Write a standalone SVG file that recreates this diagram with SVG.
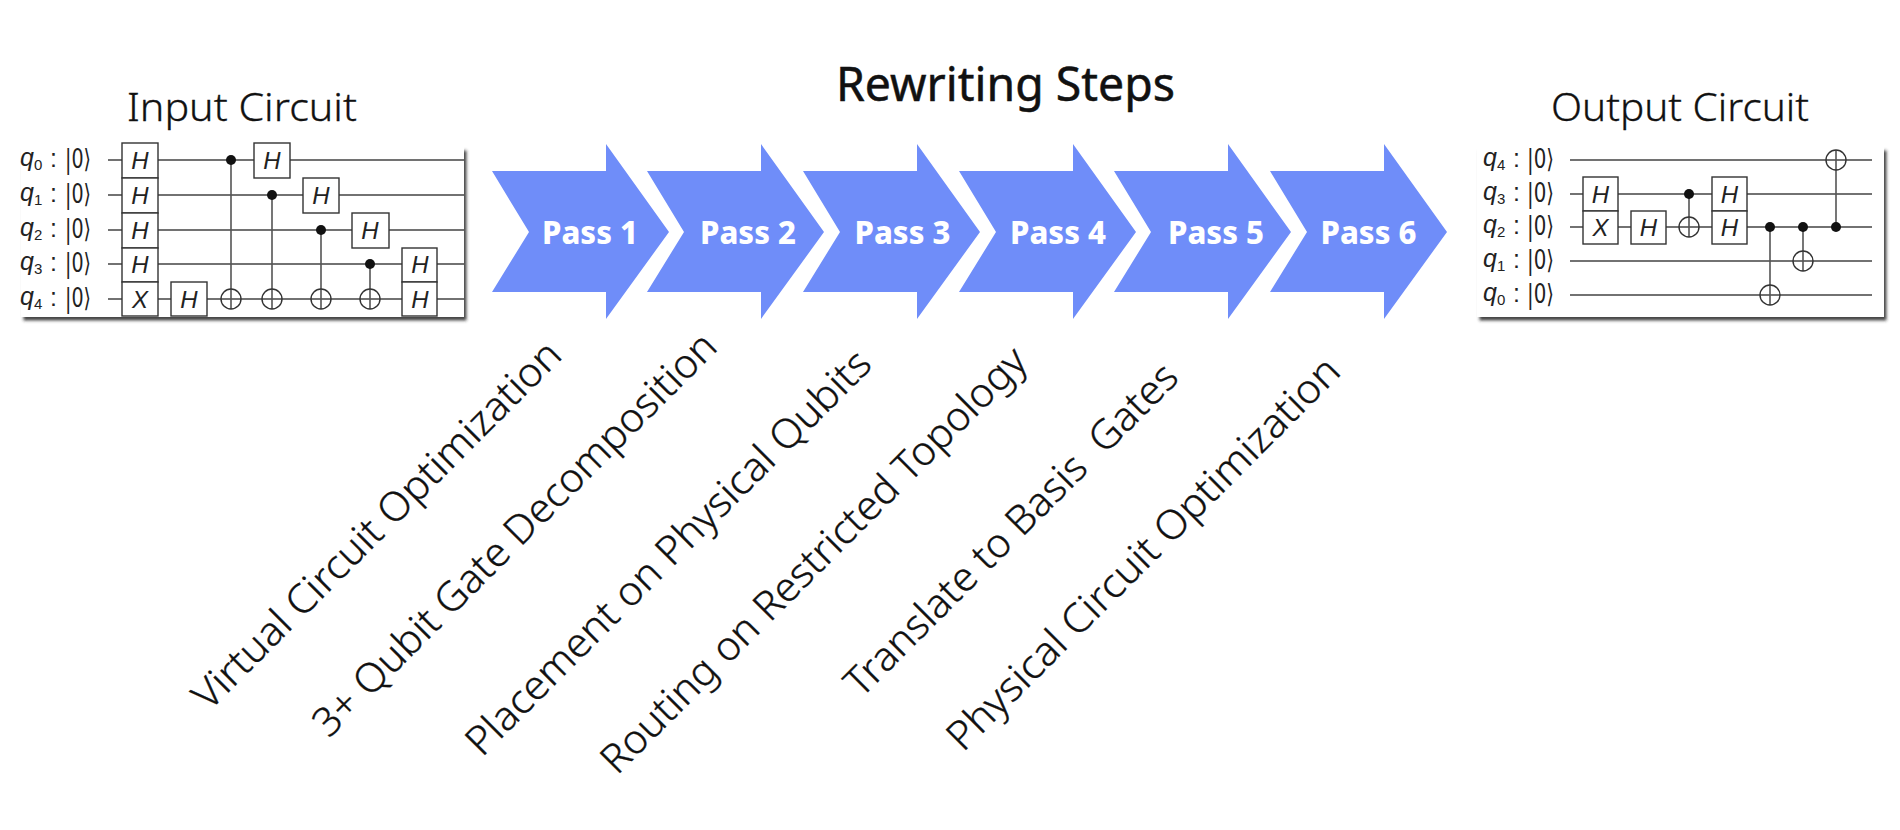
<svg xmlns="http://www.w3.org/2000/svg" xmlns:xlink="http://www.w3.org/1999/xlink" width="1900" height="830" viewBox="0 0 1900 830">
<style>
text{font-family:"Noto Sans","Open Sans","Liberation Sans",sans-serif;fill:#111}
.title{font-size:39px;font-weight:300;stroke:#111;stroke-width:.3px}
.main{font-size:47px;font-weight:400;stroke:#111;stroke-width:.5px}
.pass{font-size:32px;font-weight:800;fill:#fff;text-anchor:middle}
.rot{font-size:40px;font-weight:300;stroke:#111;stroke-width:.3px}
.arrow{fill:#6f8df9}
.wire{stroke:#444;stroke-width:1.4;fill:none}
.vert{stroke:#555;stroke-width:1.6;fill:none}
.gate{fill:#fff;stroke:#333;stroke-width:1.4}
.gt{font-family:"Liberation Sans",Arial,sans-serif;font-style:italic;font-size:24px;text-anchor:middle;fill:#222}
.q{font-family:"Liberation Sans",Arial,sans-serif;font-size:25px;fill:#222}
.q .i{font-style:italic}
.ket{font-family:"DejaVu Sans",sans-serif;font-size:26px;fill:#222}
.panel{fill:#fff;filter:url(#sh)}
.ctrl{fill:#111}
.targ{fill:none;stroke:#333;stroke-width:1.4}
</style>
<defs>
<filter id="sh" x="-5%" y="-5%" width="110%" height="110%"><feDropShadow dx="2.5" dy="3.5" stdDeviation="1.8" flood-color="#333" flood-opacity="0.9"/></filter>
<polygon id="arr" class="arrow" points="0,171 114,171 114,144 177,232 114,319 114,292 0,292 37,232"/>
</defs>

<g id="input-panel"><rect class="panel" x="21" y="147" width="443" height="170"/></g>
<g id="output-panel"><rect class="panel" x="1477" y="147" width="407" height="170"/></g>

<g id="connectors">
<path class="wire" d="M108 160H464M108 195H464M108 230H464M108 264H464M108 299H464"/>
<path class="vert" d="M231 160V309M272 195V309M321 230V309M370 264V309"/>
<path class="wire" d="M1570 160H1872M1570 194H1872M1570 227H1872M1570 261H1872M1570 295H1872"/>
<path class="vert" d="M1689 194V237M1770 227V305M1803 227V271M1836 227V150"/>
</g>

<g id="input-title"><text class="title" x="127" y="121" textLength="230" lengthAdjust="spacingAndGlyphs">Input Circuit</text></g>
<g id="title"><text class="main" x="836" y="101" textLength="339" lengthAdjust="spacingAndGlyphs">Rewriting Steps</text></g>
<g id="output-title"><text class="title" x="1551" y="121" textLength="258" lengthAdjust="spacingAndGlyphs">Output Circuit</text></g>

<g id="input-labels">
<text class="q" x="20" y="166"><tspan class="i">q</tspan><tspan font-size="15" dy="4">0</tspan></text><text class="q" x="50" y="167">:</text><text class="ket" x="65" y="168" textLength="26" lengthAdjust="spacingAndGlyphs">|0⟩</text>
<text class="q" x="20" y="201"><tspan class="i">q</tspan><tspan font-size="15" dy="4">1</tspan></text><text class="q" x="50" y="202">:</text><text class="ket" x="65" y="203" textLength="26" lengthAdjust="spacingAndGlyphs">|0⟩</text>
<text class="q" x="20" y="236"><tspan class="i">q</tspan><tspan font-size="15" dy="4">2</tspan></text><text class="q" x="50" y="237">:</text><text class="ket" x="65" y="238" textLength="26" lengthAdjust="spacingAndGlyphs">|0⟩</text>
<text class="q" x="20" y="270"><tspan class="i">q</tspan><tspan font-size="15" dy="4">3</tspan></text><text class="q" x="50" y="271">:</text><text class="ket" x="65" y="272" textLength="26" lengthAdjust="spacingAndGlyphs">|0⟩</text>
<text class="q" x="20" y="305"><tspan class="i">q</tspan><tspan font-size="15" dy="4">4</tspan></text><text class="q" x="50" y="306">:</text><text class="ket" x="65" y="307" textLength="26" lengthAdjust="spacingAndGlyphs">|0⟩</text>
</g>

<g id="input-gates">
<rect class="gate" x="122" y="143" width="36" height="35"/><text class="gt" x="140" y="169">H</text>
<rect class="gate" x="122" y="178" width="36" height="35"/><text class="gt" x="140" y="204">H</text>
<rect class="gate" x="122" y="213" width="36" height="35"/><text class="gt" x="140" y="239">H</text>
<rect class="gate" x="122" y="248" width="36" height="34"/><text class="gt" x="140" y="273">H</text>
<rect class="gate" x="122" y="282" width="36" height="34"/><text class="gt" x="140" y="308">X</text>
<rect class="gate" x="171" y="282" width="36" height="34"/><text class="gt" x="189" y="308">H</text>
<rect class="gate" x="254" y="143" width="36" height="35"/><text class="gt" x="272" y="169">H</text>
<rect class="gate" x="303" y="178" width="36" height="35"/><text class="gt" x="321" y="204">H</text>
<rect class="gate" x="352" y="213" width="37" height="35"/><text class="gt" x="370" y="239">H</text>
<rect class="gate" x="402" y="248" width="35" height="34"/><text class="gt" x="420" y="273">H</text>
<rect class="gate" x="402" y="282" width="35" height="34"/><text class="gt" x="420" y="308">H</text>
<circle class="ctrl" cx="231" cy="160" r="5"/><circle class="targ" cx="231" cy="299" r="10"/>
<circle class="ctrl" cx="272" cy="195" r="5"/><circle class="targ" cx="272" cy="299" r="10"/>
<circle class="ctrl" cx="321" cy="230" r="5"/><circle class="targ" cx="321" cy="299" r="10"/>
<circle class="ctrl" cx="370" cy="264" r="5"/><circle class="targ" cx="370" cy="299" r="10"/>
</g>

<g id="pass-1"><use xlink:href="#arr" href="#arr" x="492"/><text class="pass" x="590" y="244" textLength="96" lengthAdjust="spacingAndGlyphs">Pass 1</text></g>
<g id="pass-2"><use xlink:href="#arr" href="#arr" x="647"/><text class="pass" x="748" y="244" textLength="96" lengthAdjust="spacingAndGlyphs">Pass 2</text></g>
<g id="pass-3"><use xlink:href="#arr" href="#arr" x="803"/><text class="pass" x="902.5" y="244" textLength="96" lengthAdjust="spacingAndGlyphs">Pass 3</text></g>
<g id="pass-4"><use xlink:href="#arr" href="#arr" x="959"/><text class="pass" x="1058" y="244" textLength="96" lengthAdjust="spacingAndGlyphs">Pass 4</text></g>
<g id="pass-5"><use xlink:href="#arr" href="#arr" x="1114"/><text class="pass" x="1216" y="244" textLength="96" lengthAdjust="spacingAndGlyphs">Pass 5</text></g>
<g id="pass-6"><use xlink:href="#arr" href="#arr" x="1270"/><text class="pass" x="1368.5" y="244" textLength="96" lengthAdjust="spacingAndGlyphs">Pass 6</text></g>

<g id="output-labels">
<text class="q" x="1483" y="166"><tspan class="i">q</tspan><tspan font-size="15" dy="4">4</tspan></text><text class="q" x="1513" y="167">:</text><text class="ket" x="1527" y="168" textLength="27" lengthAdjust="spacingAndGlyphs">|0⟩</text>
<text class="q" x="1483" y="200"><tspan class="i">q</tspan><tspan font-size="15" dy="4">3</tspan></text><text class="q" x="1513" y="201">:</text><text class="ket" x="1527" y="202" textLength="27" lengthAdjust="spacingAndGlyphs">|0⟩</text>
<text class="q" x="1483" y="233"><tspan class="i">q</tspan><tspan font-size="15" dy="4">2</tspan></text><text class="q" x="1513" y="234">:</text><text class="ket" x="1527" y="235" textLength="27" lengthAdjust="spacingAndGlyphs">|0⟩</text>
<text class="q" x="1483" y="267"><tspan class="i">q</tspan><tspan font-size="15" dy="4">1</tspan></text><text class="q" x="1513" y="268">:</text><text class="ket" x="1527" y="269" textLength="27" lengthAdjust="spacingAndGlyphs">|0⟩</text>
<text class="q" x="1483" y="301"><tspan class="i">q</tspan><tspan font-size="15" dy="4">0</tspan></text><text class="q" x="1513" y="302">:</text><text class="ket" x="1527" y="303" textLength="27" lengthAdjust="spacingAndGlyphs">|0⟩</text>
</g>

<g id="output-gates">
<rect class="gate" x="1583" y="177" width="35" height="34"/><text class="gt" x="1600.5" y="203">H</text>
<rect class="gate" x="1583" y="211" width="35" height="33"/><text class="gt" x="1600.5" y="236">X</text>
<rect class="gate" x="1631" y="211" width="35" height="33"/><text class="gt" x="1648.5" y="236">H</text>
<rect class="gate" x="1712" y="177" width="35" height="34"/><text class="gt" x="1729.5" y="203">H</text>
<rect class="gate" x="1712" y="211" width="35" height="33"/><text class="gt" x="1729.5" y="236">H</text>
<circle class="ctrl" cx="1689" cy="194" r="5"/><circle class="targ" cx="1689" cy="227" r="10"/>
<circle class="ctrl" cx="1770" cy="227" r="5"/><circle class="targ" cx="1770" cy="295" r="10"/>
<circle class="ctrl" cx="1803" cy="227" r="5"/><circle class="targ" cx="1803" cy="261" r="10"/>
<circle class="ctrl" cx="1836" cy="227" r="5"/><circle class="targ" cx="1836" cy="160" r="10"/>
</g>

<g id="step-labels">
<text class="rot" transform="translate(209 712) rotate(-45)" textLength="502" lengthAdjust="spacingAndGlyphs">Virtual Circuit Optimization</text>
<text class="rot" transform="translate(329 739) rotate(-45)" textLength="552" lengthAdjust="spacingAndGlyphs">3+ Qubit Gate Decomposition</text>
<text class="rot" transform="translate(482 758) rotate(-45)" textLength="554" lengthAdjust="spacingAndGlyphs">Placement on Physical Qubits</text>
<text class="rot" transform="translate(617 776) rotate(-45)" textLength="583" lengthAdjust="spacingAndGlyphs">Routing on Restricted Topology</text>
<text class="rot" xml:space="preserve" transform="translate(861 699) rotate(-45)" textLength="452" lengthAdjust="spacingAndGlyphs">Translate to Basis  Gates</text>
<text class="rot" transform="translate(963 753) rotate(-45)" textLength="537" lengthAdjust="spacingAndGlyphs">Physical Circuit Optimization</text>
</g>
</svg>
